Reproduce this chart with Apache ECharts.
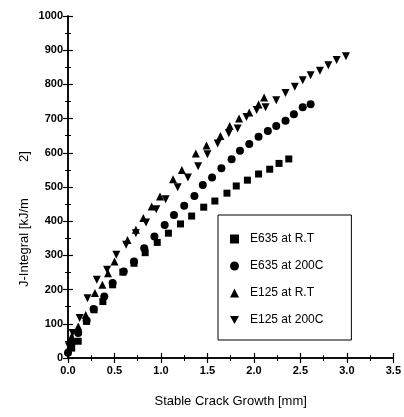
<!DOCTYPE html>
<html><head><meta charset="utf-8">
<script src="https://cdn.jsdelivr.net/npm/echarts@6/dist/echarts.min.js"></script>
<style>html,body{margin:0;padding:0;background:#fff}#c{width:404px;height:417px}</style>
</head><body><div id="c"></div>
<script>
const xTicks = [0, 0.5, 1.0, 1.5, 2.0, 2.5, 3.0, 3.5];
const yTicks = [0, 100, 200, 300, 400, 500, 600, 700, 800, 900, 1000];
const seriesNames = ['E635 at R.T', 'E635 at 200C', 'E125 at R.T', 'E125 at 200C'];

const e635RT = [[0.04,29],[0.11,49],[0.20,107],[0.28,141],[0.375,165],[0.48,214],[0.59,251],[0.71,277],[0.83,308],[0.96,338],[1.08,365],[1.21,392],[1.33,415],[1.46,441],[1.58,459],[1.71,482],[1.81,503],[1.93,520],[2.05,538],[2.17,552],[2.27,569],[2.375,582]];
const e635200 = [[0.0,15],[0.04,44],[0.11,73],[0.20,110],[0.275,143],[0.39,180],[0.48,219],[0.60,253],[0.71,282],[0.82,321],[0.93,355],[1.04,389],[1.14,418],[1.25,445],[1.36,474],[1.45,506],[1.55,528],[1.65,555],[1.76,581],[1.85,606],[1.95,626],[2.05,647],[2.15,664],[2.24,678],[2.34,694],[2.43,713],[2.525,733],[2.61,742]];
const e125RT = [[0.0,24],[0.04,63],[0.11,92],[0.19,126],[0.29,190],[0.37,214],[0.43,248],[0.50,282],[0.64,345],[0.73,375],[0.81,409],[0.90,443],[0.99,472],[1.13,523],[1.225,550],[1.375,598],[1.49,621],[1.64,649],[1.74,678],[1.84,700],[1.95,718],[2.05,741],[2.11,762]];
const e125200 = [[0.01,34],[0.05,73],[0.125,117],[0.21,175],[0.31,229],[0.42,258],[0.52,302],[0.625,331],[0.73,365],[0.84,396],[0.95,435],[1.05,464],[1.18,499],[1.29,528],[1.40,561],[1.50,596],[1.61,627],[1.73,657],[1.825,671],[1.92,705],[2.03,725],[2.125,733],[2.24,754],[2.34,775],[2.44,793],[2.525,812],[2.61,827],[2.71,840],[2.80,856],[2.89,871],[2.99,882]];

const chart = echarts.init(document.getElementById('c'), null, {renderer:'canvas'});
const font = 'Liberation Sans, Arial, sans-serif';
const axisCommon = {
  axisLine:{show:true, lineStyle:{color:'#000', width:1.5}},
  axisTick:{show:true, inside:true, length:5, lineStyle:{color:'#000', width:1.2}},
  minorTick:{show:true, splitNumber:2, length:3, lineStyle:{color:'#000', width:1}},
  splitLine:{show:false}
};
const downTri = 'path://M0,0 L10,0 L5,9 Z';
const mk = {color:'#000', opacity:1};
chart.setOption({
  animation:false,
  backgroundColor:'#fff',
  grid:{left:68, right:9, top:16, bottom:59},
  xAxis:[
    Object.assign({type:'value', min:0, max:3.5, interval:0.5, position:'bottom',
      axisLabel:{color:'#000', fontFamily:font, fontSize:11, fontWeight:'bold', margin:7,
        formatter:v=>xTicks.includes(v)?v.toFixed(1):''},
      name:'Stable Crack Growth [mm]', nameLocation:'middle', nameGap:37,
      nameTextStyle:{color:'#000', fontFamily:font, fontSize:13}}, axisCommon),
    Object.assign({type:'value', min:0, max:3.5, interval:0.5, position:'top', axisLabel:{show:false}}, axisCommon)
  ],
  yAxis:[
    Object.assign({type:'value', min:0, max:1000, interval:100, position:'left',
      axisLabel:{color:'#000', fontFamily:font, fontSize:11, fontWeight:'bold', margin:5,
        formatter:v=>yTicks.includes(v)?String(v):''}}, axisCommon),
    Object.assign({type:'value', min:0, max:1000, interval:100, position:'right', axisLabel:{show:false}}, axisCommon)
  ],
  graphic:[{type:'text', x:18, y:287, rotation:Math.PI/2,
    style:{text:'J-Integral [kJ/m          2]', fill:'#000', font:'13px Liberation Sans, Arial, sans-serif', textVerticalAlign:'top'}}],
  legend:{
    orient:'vertical', left:218, top:215, itemWidth:9, itemHeight:9, itemGap:15,
    padding:[18, 28, 14, 12], borderColor:'#000', borderWidth:1,
    textStyle:{color:'#000', fontFamily:font, fontSize:12, padding:[0,0,0,6]},
    data:seriesNames
  },
  series:[
    {name:seriesNames[0], type:'scatter', data:e635RT, symbol:'rect', symbolSize:7, itemStyle:mk},
    {name:seriesNames[1], type:'scatter', data:e635200, symbol:'circle', symbolSize:8, itemStyle:mk},
    {name:seriesNames[2], type:'scatter', data:e125RT, symbol:'triangle', symbolSize:8, itemStyle:mk},
    {name:seriesNames[3], type:'scatter', data:e125200, symbol:downTri, symbolSize:8, itemStyle:mk}
  ]
});
</script></body></html>
